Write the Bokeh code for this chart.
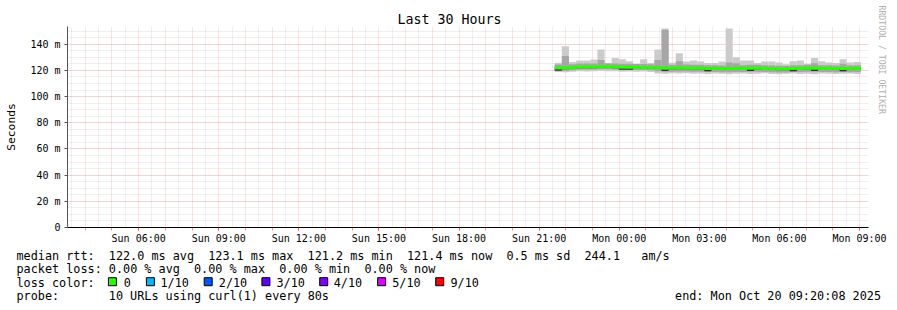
import re
import numpy as np
from bokeh.plotting import figure
from bokeh.layouts import column
from bokeh.models import ColumnDataSource, FixedTicker, Range1d, Title
from bokeh.core.properties import value
from bokeh.embed import file_html
from bokeh.resources import INLINE

FONT = "DejaVu Sans Mono"

# ---------------- data (x in hours since Sun 00:00, values in ms) ----------------
first_bin_hour = 21 + 35 / 60
bin_minutes = 16
max_ms = [125.8, 138.5, 126.3, 127.6, 127.6, 128.3, 136.0, 125.0, 129.4, 128.4,
          127.0, 125.0, 128.4, 125.7, 136.0, 152.0, 125.8, 133.0, 126.8, 127.6,
          126.8, 125.6, 125.6, 126.8, 152.0, 130.0, 127.6, 127.6, 125.6, 126.8,
          126.8, 126.0, 124.6, 127.0, 127.6, 125.0, 129.4, 127.0, 126.0, 125.6,
          128.4, 126.0, 126.4]
mid_hi_ms = [124.4, 131.0, 124.6, 125.2, 125.2, 125.2, 128.0, 125.4, 125.2, 125.0,
             125.0, 124.8, 124.8, 124.6, 128.0, 151.0, 124.2, 127.0, 124.4, 124.2,
             124.2, 124.0, 124.0, 123.8, 126.0, 125.5, 124.0, 124.2, 124.2, 124.0,
             123.8, 123.6, 123.6, 124.0, 124.0, 124.2, 125.5, 124.0, 124.0, 123.8,
             125.0, 123.8, 124.0]
median_ms = [121.8, 121.8, 122.0, 122.6, 122.6, 122.6, 122.8, 122.8, 122.6, 122.4,
             122.4, 122.2, 122.2, 122.0, 122.0, 121.6, 121.6, 121.8, 121.8, 121.6,
             121.6, 121.4, 121.4, 121.2, 121.2, 121.4, 121.4, 121.6, 121.6, 121.4,
             121.2, 121.0, 121.0, 121.4, 121.4, 121.6, 121.6, 121.4, 121.4, 121.2,
             121.4, 121.2, 121.4]
inner_lo_ms = [119.8, 120.8, 121.0, 121.6, 121.6, 121.6, 121.8, 121.8, 121.6, 120.4,
               120.4, 121.2, 121.2, 121.0, 121.0, 119.6, 120.6, 120.8, 120.8, 120.6,
               120.6, 119.4, 120.4, 120.2, 120.2, 120.4, 120.4, 119.6, 120.6, 120.4,
               120.2, 120.0, 120.0, 119.4, 120.4, 120.6, 119.6, 120.4, 120.4, 120.2,
               119.4, 120.2, 120.4]
mid_lo_ms = [119.8, 119.8, 120.0, 120.6, 120.6, 120.6, 120.8, 120.8, 120.6, 120.4,
             120.4, 120.2, 120.2, 120.0, 119.4, 119.0, 119.0, 119.2, 119.2, 119.0,
             119.0, 118.8, 118.8, 118.6, 118.6, 118.8, 118.8, 119.0, 119.0, 118.8,
             118.6, 118.4, 118.4, 118.8, 118.8, 119.0, 119.0, 118.8, 118.8, 118.6,
             118.8, 118.6, 118.8]
min_ms = [118.8, 118.6, 119.0, 119.4, 119.2, 119.4, 119.6, 119.4, 119.4, 119.0,
          119.2, 119.0, 119.2, 118.8, 117.6, 117.4, 117.8, 117.6, 117.8, 117.4,
          117.6, 117.2, 117.6, 117.4, 117.0, 117.4, 117.6, 117.2, 117.4, 117.8,
          117.2, 117.0, 117.4, 117.6, 117.2, 117.4, 117.0, 117.6, 117.4, 117.2,
          117.4, 117.6, 117.2]
loss_per_bin = [0] * len(median_ms)

x_tick_hours = [6, 9, 12, 15, 18, 21, 24, 27, 30, 33]
x_tick_labels = ["Sun 06:00", "Sun 09:00", "Sun 12:00", "Sun 15:00", "Sun 18:00",
                 "Sun 21:00", "Mon 00:00", "Mon 03:00", "Mon 06:00", "Mon 09:00"]
y_ticks = [0, 20, 40, 60, 80, 100, 120, 140]
y_tick_labels = ["0", "20 m", "40 m", "60 m", "80 m", "100 m", "120 m", "140 m"]

loss_labels = ["0", "1/10", "2/10", "3/10", "4/10", "5/10", "9/10"]
loss_colors = ["#26ff00", "#00b8ff", "#0059ff", "#5e00ff", "#7e00ff", "#dd00ff", "#ff0000"]

title_text = "Last 30 Hours"
y_label = "Seconds"
line_rtt = "median rtt:  122.0 ms avg  123.1 ms max  121.2 ms min  121.4 ms now  0.5 ms sd  244.1   am/s"
line_loss = "packet loss: 0.00 % avg  0.00 % max  0.00 % min  0.00 % now"
line_color_head = "loss color:"
line_probe = "probe:       10 URLs using curl(1) every 80s"
line_end = "end: Mon Oct 20 09:20:08 2025"
watermark = "RRDTOOL / TOBI OETIKER"

# ---------------- layout ----------------
W = 897
H_CHART, H_LEG = 246, 64
FL, FR, FT, FB = 67, 868, 26, 228          # chart frame edges (canvas px)
x_start = 3 + 20 / 60 + 8 / 3600
x_end = x_start + 30
y_top = 153.5

n = len(median_ms)
bw = bin_minutes / 60
left = first_bin_hour + np.arange(n) * bw
src = ColumnDataSource(dict(left=left, right=left + bw, max=max_ms, mid_hi=mid_hi_ms,
                            med=median_ms, inner_lo=inner_lo_ms, mid_lo=mid_lo_ms,
                            min=min_ms,
                            color=[loss_colors[k] for k in loss_per_bin]))

p = figure(width=W, height=H_CHART, output_backend="svg", toolbar_location=None,
           x_range=Range1d(x_start, x_end), y_range=Range1d(0, y_top),
           min_border_left=FL, min_border_right=W - FR, min_border_top=FT,
           min_border_bottom=H_CHART - FB)
p.outline_line_color = None
p.border_fill_color = "white"
p.title.text = title_text
p.title.align = "left"
p.title.offset = 330
p.title.text_font = FONT
p.title.text_font_size = "13.3px"
p.title.text_font_style = "normal"
p.title.text_color = "black"
p.title.standoff = 0

wm = Title(text=watermark, align="left", text_font=FONT, text_font_size="8.2px",
           text_font_style="normal", text_color="#b0b0b0", standoff=16, offset=-21)
p.add_layout(wm, "right")

# grids
xg_major = list(range(4, 34))
xg_minor = [h + 0.5 for h in range(3, 34)]
p.xgrid.ticker = FixedTicker(ticks=xg_major, minor_ticks=xg_minor)
p.ygrid.ticker = FixedTicker(ticks=y_ticks, minor_ticks=list(range(0, 155, 5)))
for g in (p.xgrid[0], p.ygrid[0]):
    g.grid_line_color = "#ff0000"
    g.grid_line_alpha = 0.22
    g.grid_line_dash = "1 1"
    g.minor_grid_line_color = "#999999"
    g.minor_grid_line_alpha = 0.3
    g.minor_grid_line_dash = "1 1"

# smoke + median
p.quad(left="left", right="right", bottom="min", top="max", source=src,
       fill_color="#cbcbcb", line_color=None)
p.quad(left="left", right="right", bottom="mid_lo", top="mid_hi", source=src,
       fill_color="#a6a6a6", line_color=None)
p.quad(left="left", right="right", bottom="inner_lo", top="med", source=src,
       fill_color="#303030", line_color=None)
p.segment(x0="left", x1="right", y0="med", y1="med", source=src,
          line_color="color", line_width=3, line_cap="butt")

# axes
xa = p.xaxis[0]
xa.ticker = FixedTicker(ticks=x_tick_hours, minor_ticks=xg_major)
xa.major_label_overrides = dict(zip(x_tick_hours, x_tick_labels))
xa.axis_line_color = "black"
for attr in ("major", "minor"):
    setattr(xa, f"{attr}_tick_line_color", "#ff0000")
    setattr(xa, f"{attr}_tick_line_alpha", 0.45)
    setattr(xa, f"{attr}_tick_in", 0)
    setattr(xa, f"{attr}_tick_out", 3)
xa.major_label_standoff = 2

ya = p.yaxis[0]
ya.ticker = FixedTicker(ticks=y_ticks)
ya.major_label_overrides = dict(zip(y_ticks, y_tick_labels))
ya.axis_line_color = "#555555"
ya.major_tick_line_color = "#555555"
ya.major_tick_in = 0
ya.major_tick_out = 3
ya.minor_tick_line_color = None
ya.major_label_standoff = 4
ya.axis_label = y_label
ya.axis_label_text_font = FONT
ya.axis_label_text_font_size = "11.3px"
ya.axis_label_text_font_style = "normal"
ya.axis_label_text_color = "black"
ya.axis_label_standoff = 9

for a in (xa, ya):
    a.major_label_text_font = FONT
    a.major_label_text_font_size = "10px"
    a.major_label_text_color = "black"

# ---------------- legend block below the chart (pixel layout space) ----------------
CH = 7.1            # monospace cell width at 11.8px
X0 = 16
ROW_Y = [9.0, 22.6, 36.0, 49.5]


def cells(line):
    out = []
    for m in re.finditer(r"\S+(?: \S+)*", line):
        out.append((X0 + m.start() * CH, m.group(0)))
    return out


tx, ty, tt = [], [], []
for row, line in ((0, line_rtt), (1, line_loss), (2, line_color_head), (3, line_probe)):
    for x, s in cells(line):
        tx.append(x)
        ty.append(ROW_Y[row])
        tt.append(s)
sq_left = [107.7, 145.7, 203.5, 261.2, 319.0, 376.9, 435.0]
lab_x = [123.3, 160.0, 218.3, 276.0, 333.2, 391.7, 450.0]
for x, s in zip(lab_x, loss_labels):
    tx.append(x)
    ty.append(ROW_Y[2])
    tt.append(s)

q = figure(width=W, height=H_LEG, output_backend="svg", toolbar_location=None,
           x_range=Range1d(0, W), y_range=Range1d(H_LEG, 0),
           x_axis_type=None, y_axis_type=None, min_border=0,
           min_border_left=0, min_border_right=0, min_border_top=0, min_border_bottom=0)
q.outline_line_color = None
q.grid.visible = False
q.border_fill_color = "white"
for fig in (p, q):
    if "frame_align" in fig.properties():
        fig.frame_align = False
q.text(x=tx, y=ty, text=tt, text_font=value(FONT), text_font_size=value("11.8px"),
       text_baseline="middle", text_align="left", text_color="black")
q.text(x=[880.5], y=[ROW_Y[3]], text=[line_end], text_font=value(FONT),
       text_font_size=value("11.8px"), text_baseline="middle", text_align="right",
       text_color="black")
q.rect(x=[v + 4.2 for v in sq_left], y=[ROW_Y[2] - 0.8] * len(sq_left), width=8, height=8,
       fill_color=loss_colors, line_color="black", line_width=1)

layout = column(p, q, spacing=0)
open("out.html", "w").write(file_html(layout, INLINE))
